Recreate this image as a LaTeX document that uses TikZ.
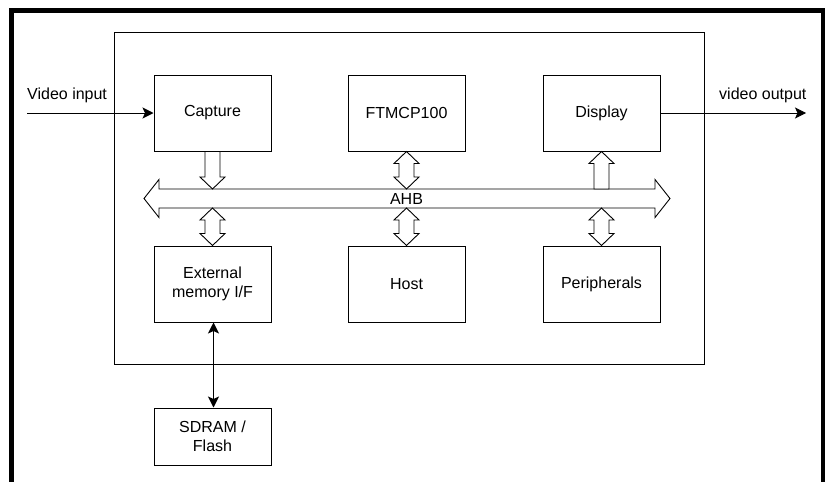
\documentclass[tikz,border=0pt]{standalone}
\usepackage{fontspec}
\setmainfont{Liberation Sans}
\usetikzlibrary{calc,arrows.meta}

% block arrows between a start point and a tip point
\newcommand\blkdown[2]{\draw[blk] let \p1=#1, \p2=#2 in
  (\x1-7.5pt,\y1) -- (\x1-7.5pt,\y2+12pt) -- (\x1-12.5pt,\y2+12pt) -- (\x1,\y2)
  -- (\x1+12.5pt,\y2+12pt) -- (\x1+7.5pt,\y2+12pt) -- (\x1+7.5pt,\y1) -- cycle;}
\newcommand\blkup[2]{\draw[blk] let \p1=#1, \p2=#2 in
  (\x1,\y1) -- (\x1+12.5pt,\y1-12pt) -- (\x1+7.5pt,\y1-12pt) -- (\x1+7.5pt,\y2)
  -- (\x1-7.5pt,\y2) -- (\x1-7.5pt,\y1-12pt) -- (\x1-12.5pt,\y1-12pt) -- cycle;}
\newcommand\blkboth[2]{\draw[blk] let \p1=#1, \p2=#2 in
  (\x1,\y1) -- (\x1+12.5pt,\y1-12pt) -- (\x1+7.5pt,\y1-12pt) -- (\x1+7.5pt,\y2+12pt)
  -- (\x1+12.5pt,\y2+12pt) -- (\x1,\y2) -- (\x1-12.5pt,\y2+12pt) -- (\x1-7.5pt,\y2+12pt)
  -- (\x1-7.5pt,\y1-12pt) -- (\x1-12.5pt,\y1-12pt) -- cycle;}

\begin{document}
\begin{tikzpicture}[x=1pt,y=-1pt,
  font=\fontsize{16}{19}\selectfont,
  box/.style={draw=black, line width=1pt, fill=white, inner sep=0pt,
    minimum width=117pt, minimum height=76pt, align=center},
  blk/.style={draw=black, line width=0.9pt, fill=white, line join=miter},
  conn/.style={draw=black, line width=1pt,
    -{Stealth[length=11pt,width=11pt,inset=2.5pt]}},
  lbl/.style={inner sep=0pt}]
\useasboundingbox (0,0) rectangle (825,482);
\clip (0,0) rectangle (825,482);

% heavy outer frame, open at the bottom edge
\draw[line width=5pt, line join=miter] (11.5,495) -- (11.5,10) -- (823,10) -- (823,495);

% system box
\node[draw=black, line width=1pt, inner sep=0pt, minimum width=590pt,
  minimum height=332pt] (sys) at (409,198) {};

% functional blocks
\node[box] (cap)  at (212.5,113) {Capture};
\node[box] (ftm)  at (406.5,113) {FTMCP100};
\node[box] (disp) at (601.5,113) {Display};
\node[box] (mem)  at (212.5,284) {External\\memory I/F};
\node[box] (host) at (406.5,284) {Host};
\node[box] (per)  at (601.5,284) {Peripherals};
\node[box, minimum height=57pt] (sdram) at (212.5,436.5) {SDRAM /\\Flash};

% AHB bus
\coordinate (busT) at (0,189);
\coordinate (busB) at (0,208);
\draw[blk] (144,198.5) -- (159,179.5) -- (159,189) -- (655,189) -- (655,179.5)
  -- (670,198.5) -- (655,217.5) -- (655,208) -- (159,208) -- (159,217.5) -- cycle;
\node[lbl] (ahb) at (406.5,198.5) {AHB};

% bus attachments
\blkdown{(cap.south)}{(cap.south |- busT)}
\blkboth{(ftm.south)}{(ftm.south |- busT)}
\blkup{(disp.south)}{(disp.south |- busT)}
\blkboth{(mem.north |- busB)}{(mem.north)}
\blkboth{(host.north |- busB)}{(host.north)}
\blkboth{(per.north |- busB)}{(per.north)}

% video in / out
\coordinate (vin) at (27,113);
\coordinate (vout) at (806,113);
\draw[conn] (vin) -- (cap.west);
\draw[conn] (disp.east) -- (vout);
\node[lbl, anchor=west] (vinl) at (27,95) {Video input};
\node[lbl, anchor=west] (voutl) at (719,95) {video output};

% memory link
\draw[conn, {Stealth[length=11pt,width=11pt,inset=2.5pt]}-{Stealth[length=11pt,width=11pt,inset=2.5pt]}]
  ($(mem.south)+(1,0)$) -- ($(sdram.north)+(1,0)$);
\end{tikzpicture}
\end{document}
